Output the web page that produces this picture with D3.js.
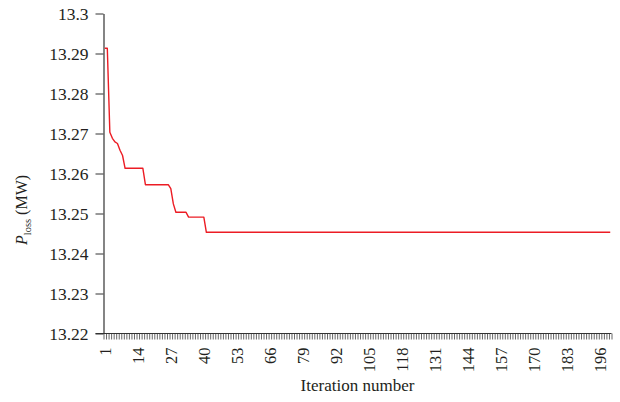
<!DOCTYPE html>
<html>
<head>
<meta charset="utf-8">
<script src="https://cdn.jsdelivr.net/npm/d3@7/dist/d3.min.js"></script>
<style>
  body { margin: 0; background: #fff; }
  svg { display: block; }
  svg text { font-family: "Liberation Serif", "DejaVu Serif", serif; }
</style>
</head>
<body>
<div id="chart"></div>
<script>
// Power loss per iteration (MW)
const lossValues = [
  13.2913, 13.2913, 13.2703, 13.2688, 13.2679, 13.2675, 13.2658, 13.2645, 13.2613, 13.2613,
  13.2613, 13.2613, 13.2613, 13.2613, 13.2613, 13.2613, 13.2572, 13.2572, 13.2572, 13.2572,
  13.2572, 13.2572, 13.2572, 13.2572, 13.2572, 13.2572, 13.2562, 13.2524, 13.2503, 13.2503,
  13.2503, 13.2503, 13.2503, 13.2491, 13.2491, 13.2491, 13.2491, 13.2491, 13.2491, 13.2491,
  13.2453, 13.2453, 13.2453, 13.2453, 13.2453, 13.2453, 13.2453, 13.2453, 13.2453, 13.2453,
  13.2453, 13.2453, 13.2453, 13.2453, 13.2453, 13.2453, 13.2453, 13.2453, 13.2453, 13.2453,
  13.2453, 13.2453, 13.2453, 13.2453, 13.2453, 13.2453, 13.2453, 13.2453, 13.2453, 13.2453,
  13.2453, 13.2453, 13.2453, 13.2453, 13.2453, 13.2453, 13.2453, 13.2453, 13.2453, 13.2453,
  13.2453, 13.2453, 13.2453, 13.2453, 13.2453, 13.2453, 13.2453, 13.2453, 13.2453, 13.2453,
  13.2453, 13.2453, 13.2453, 13.2453, 13.2453, 13.2453, 13.2453, 13.2453, 13.2453, 13.2453,
  13.2453, 13.2453, 13.2453, 13.2453, 13.2453, 13.2453, 13.2453, 13.2453, 13.2453, 13.2453,
  13.2453, 13.2453, 13.2453, 13.2453, 13.2453, 13.2453, 13.2453, 13.2453, 13.2453, 13.2453,
  13.2453, 13.2453, 13.2453, 13.2453, 13.2453, 13.2453, 13.2453, 13.2453, 13.2453, 13.2453,
  13.2453, 13.2453, 13.2453, 13.2453, 13.2453, 13.2453, 13.2453, 13.2453, 13.2453, 13.2453,
  13.2453, 13.2453, 13.2453, 13.2453, 13.2453, 13.2453, 13.2453, 13.2453, 13.2453, 13.2453,
  13.2453, 13.2453, 13.2453, 13.2453, 13.2453, 13.2453, 13.2453, 13.2453, 13.2453, 13.2453,
  13.2453, 13.2453, 13.2453, 13.2453, 13.2453, 13.2453, 13.2453, 13.2453, 13.2453, 13.2453,
  13.2453, 13.2453, 13.2453, 13.2453, 13.2453, 13.2453, 13.2453, 13.2453, 13.2453, 13.2453,
  13.2453, 13.2453, 13.2453, 13.2453, 13.2453, 13.2453, 13.2453, 13.2453, 13.2453, 13.2453,
  13.2453, 13.2453, 13.2453, 13.2453, 13.2453, 13.2453, 13.2453, 13.2453, 13.2453, 13.2453
];
const iterations = lossValues.map((d, i) => i + 1);
const xTickLabels = [1, 14, 27, 40, 53, 66, 79, 92, 105, 118, 131, 144, 157, 170, 183, 196];
const yTickValues = [13.22, 13.23, 13.24, 13.25, 13.26, 13.27, 13.28, 13.29, 13.3];

const width = 620, height = 402;
const plotLeft = 103.5, plotRight = 611.5, plotTop = 13.5, plotBottom = 333.5;
const textColor = "#231f20";

const svg = d3.select("#chart").append("svg")
  .attr("width", width)
  .attr("height", height)
  .style("background", "#fff");

// categories sit in the middle of their slot, tick marks between slots
const x = d3.scaleLinear()
  .domain([0.5, iterations.length + 0.5])
  .range([plotLeft, plotRight]);
const y = d3.scaleLinear()
  .domain([13.22, 13.3])
  .range([plotBottom, plotTop]);

// minor tick marks at every category boundary
const boundaries = iterations.map(d => d - 0.5).concat([iterations.length + 0.5]);
svg.append("g")
  .attr("transform", `translate(0,${plotBottom})`)
  .call(d3.axisBottom(x).tickValues(boundaries).tickSize(6).tickFormat("").tickSizeOuter(0))
  .call(g => g.select(".domain").remove())
  .call(g => g.selectAll(".tick line").attr("stroke", "#666").attr("stroke-width", 1));

// x labels, rotated
svg.append("g")
  .attr("transform", `translate(0,${plotBottom})`)
  .call(d3.axisBottom(x).tickValues(xTickLabels).tickSize(0).tickSizeOuter(0))
  .attr("font-family", null)
  .call(g => g.select(".domain").remove())
  .call(g => g.selectAll(".tick text")
    .attr("font-size", 16.5)
    .attr("fill", textColor)
    .attr("text-anchor", "end")
    .attr("transform", "rotate(-90)")
    .attr("x", -14)
    .attr("y", 0)
    .attr("dy", "0.33em"));

// x axis line
svg.append("line")
  .attr("x1", plotLeft - 8).attr("x2", plotRight)
  .attr("y1", plotBottom).attr("y2", plotBottom)
  .attr("stroke", "#333").attr("stroke-width", 1.2);

// y axis
svg.append("g")
  .attr("transform", `translate(${plotLeft},0)`)
  .call(d3.axisLeft(y).tickValues(yTickValues).tickSize(8).tickPadding(7)
    .tickSizeOuter(0).tickFormat(d => String(d)))
  .attr("font-family", null)
  .call(g => g.select(".domain").attr("stroke", "#333").attr("stroke-width", 1.2))
  .call(g => g.selectAll(".tick line").attr("stroke", "#333"))
  .call(g => g.selectAll(".tick text").attr("font-size", 17.5).attr("fill", textColor));

// loss curve
const line = d3.line()
  .x((d, i) => x(iterations[i]))
  .y(d => y(d));

svg.append("path")
  .datum(lossValues)
  .attr("fill", "none")
  .attr("stroke", "#ec1c24")
  .attr("stroke-width", 1.4)
  .attr("stroke-linejoin", "round")
  .attr("d", line);

// axis titles
svg.append("text")
  .attr("x", (plotLeft + plotRight) / 2)
  .attr("y", 391)
  .attr("text-anchor", "middle")
  .attr("font-size", 17)
  .attr("fill", textColor)
  .text("Iteration number");

const yTitle = svg.append("text")
  .attr("transform", "translate(27,210) rotate(-90)")
  .attr("text-anchor", "middle")
  .attr("font-size", 16)
  .attr("fill", textColor);
yTitle.append("tspan").attr("font-style", "italic").text("P");
yTitle.append("tspan").attr("font-size", 10.5).attr("dy", 4).text("loss");
yTitle.append("tspan").attr("dy", -4).text(" (MW)");
</script>
</body>
</html>
